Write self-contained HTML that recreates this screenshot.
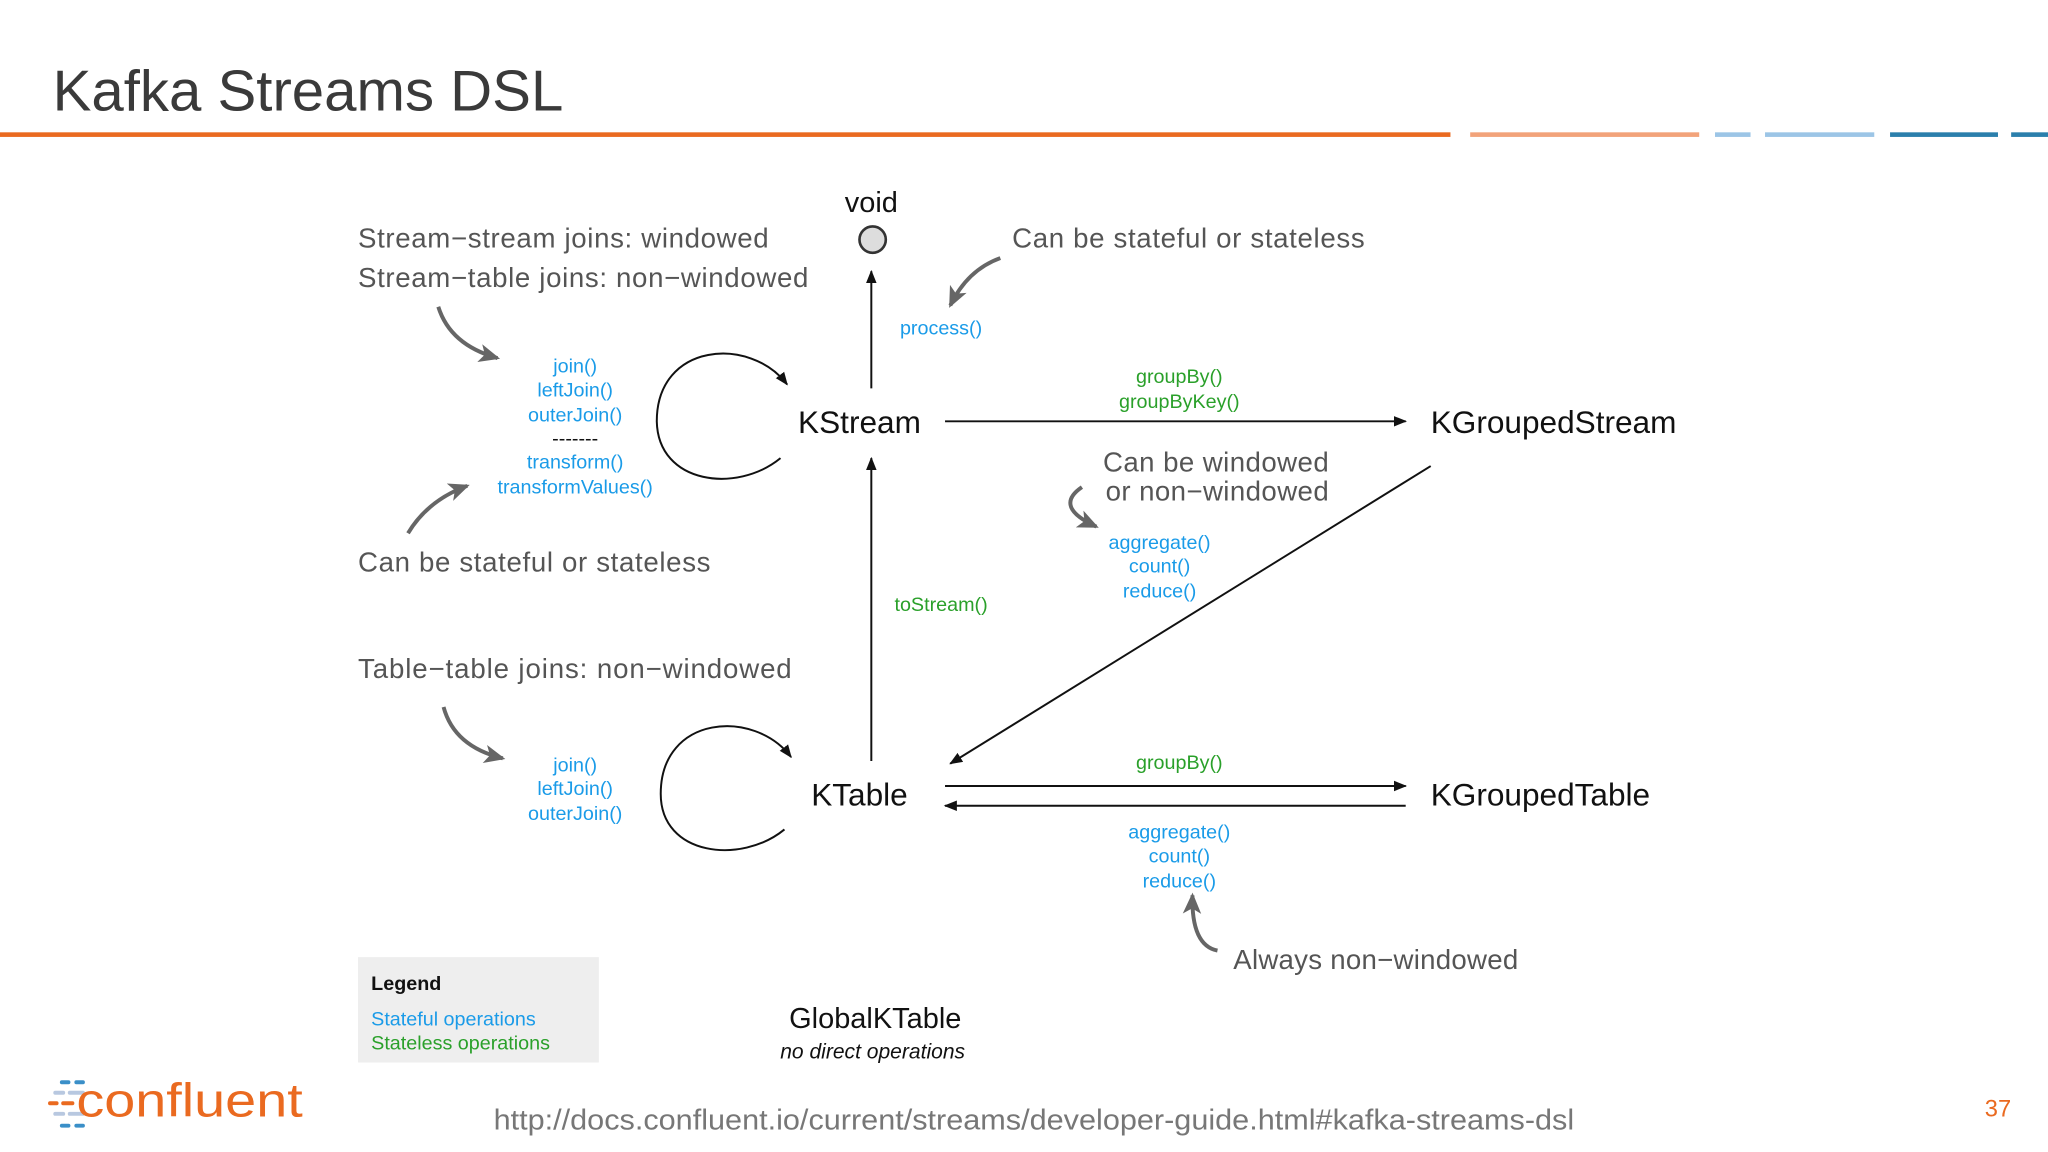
<!DOCTYPE html>
<html><head><meta charset="utf-8"><style>
html,body{margin:0;padding:0;background:#fff;}
svg{display:block;}
.h{font-family:"Liberation Sans",sans-serif;fill:#555;font-size:21px;letter-spacing:0.5px;}
.b{fill:#1a9be8;}
.g{fill:#2aa02a;}
text{font-family:"Liberation Sans",sans-serif;}
</style></head><body>
<svg width="2048" height="1152" viewBox="0 0 1556 875" preserveAspectRatio="none" xmlns="http://www.w3.org/2000/svg">
<defs>
<marker id="a" markerWidth="10" markerHeight="10" refX="9" refY="5" orient="auto" markerUnits="userSpaceOnUse"><path d="M0,1 L10,5 L0,9 z" fill="#111"/></marker>
<marker id="ga" markerWidth="16" markerHeight="16" refX="14" refY="8" orient="auto" markerUnits="userSpaceOnUse"><path d="M0,1 L16,8 L0,15 L4,8 z" fill="#666"/></marker>
</defs>
<text x="40" y="84" font-size="44" fill="#3a3a3a" textLength="388" lengthAdjust="spacingAndGlyphs">Kafka Streams DSL</text>
<rect x="0" y="100.5" width="1102" height="3.5" fill="#ea6a20"/>
<rect x="1117" y="100.5" width="174" height="3.5" fill="#f2a37a"/>
<rect x="1303" y="100.5" width="27" height="3.5" fill="#9cc5e6"/>
<rect x="1341" y="100.5" width="83" height="3.5" fill="#9cc5e6"/>
<rect x="1436" y="100.5" width="82" height="3.5" fill="#2b7fac"/>
<rect x="1528" y="100.5" width="28" height="3.5" fill="#2b7fac"/>

<text x="662" y="161" font-size="22" text-anchor="middle" fill="#111">void</text>
<circle cx="663" cy="182" r="10" fill="#ddd" stroke="#333" stroke-width="2"/>
<line x1="662" y1="295" x2="662" y2="206" stroke="#111" stroke-width="1.5" marker-end="url(#a)"/>
<text x="715" y="254" font-size="15" text-anchor="middle" class="b">process()</text>

<text x="272" y="188" class="h">Stream−stream joins: windowed</text>
<text x="272" y="218" class="h">Stream−table joins: non−windowed</text>
<text x="769" y="188" class="h">Can be stateful or stateless</text>
<path d="M760,196 Q735,205 722,232" fill="none" stroke="#666" stroke-width="3" marker-end="url(#ga)"/>
<path d="M333,233 Q342,262 378,272" fill="none" stroke="#666" stroke-width="3" marker-end="url(#ga)"/>

<text x="653" y="329" font-size="24" text-anchor="middle" fill="#111">KStream</text>
<line x1="718" y1="320" x2="1068" y2="320" stroke="#111" stroke-width="1.5" marker-end="url(#a)"/>
<text x="896" y="291" font-size="15" text-anchor="middle" class="g">groupBy()</text>
<text x="896" y="310" font-size="15" text-anchor="middle" class="g">groupByKey()</text>
<text x="1087" y="329" font-size="24" fill="#111">KGroupedStream</text>
<path d="M593,348 C560,375 500,368 499,320 C499,260 570,255 598,292" fill="none" stroke="#111" stroke-width="1.5" marker-end="url(#a)"/>

<g font-size="15" text-anchor="middle" class="b">
<text x="437" y="283">join()</text><text x="437" y="301">leftJoin()</text><text x="437" y="320">outerJoin()</text>
<text x="437" y="338" fill="#111">-------</text>
<text x="437" y="356">transform()</text><text x="437" y="375">transformValues()</text>
</g>
<path d="M310,405 Q325,380 355,369" fill="none" stroke="#666" stroke-width="3" marker-end="url(#ga)"/>
<text x="272" y="434" class="h">Can be stateful or stateless</text>

<line x1="662" y1="578" x2="662" y2="348" stroke="#111" stroke-width="1.5" marker-end="url(#a)"/>
<text x="715" y="464" font-size="15" text-anchor="middle" class="g">toStream()</text>
<text x="838" y="358" class="h" textLength="172">Can be windowed</text>
<text x="840" y="380" class="h" textLength="170">or non−windowed</text>
<path d="M822,370 Q800,385 833,400" fill="none" stroke="#666" stroke-width="3" marker-end="url(#ga)"/>
<g font-size="15" text-anchor="middle" class="b">
<text x="881" y="417">aggregate()</text><text x="881" y="435">count()</text><text x="881" y="454">reduce()</text>
</g>
<line x1="1087" y1="354" x2="722" y2="580" stroke="#111" stroke-width="1.5" marker-end="url(#a)"/>

<text x="272" y="515" class="h" textLength="330">Table−table joins: non−windowed</text>
<path d="M337,537 Q345,567 382,576" fill="none" stroke="#666" stroke-width="3" marker-end="url(#ga)"/>
<g font-size="15" text-anchor="middle" class="b">
<text x="437" y="586">join()</text><text x="437" y="604">leftJoin()</text><text x="437" y="623">outerJoin()</text>
</g>
<path d="M596,630 C563,657 502,650 502,603 C502,543 573,538 601,575" fill="none" stroke="#111" stroke-width="1.5" marker-end="url(#a)"/>

<text x="653" y="612" font-size="24" text-anchor="middle" fill="#111">KTable</text>
<text x="896" y="584" font-size="15" text-anchor="middle" class="g">groupBy()</text>
<line x1="718" y1="597" x2="1068" y2="597" stroke="#111" stroke-width="1.5" marker-end="url(#a)"/>
<line x1="1068" y1="612" x2="718" y2="612" stroke="#111" stroke-width="1.5" marker-end="url(#a)"/>
<text x="1087" y="612" font-size="24" fill="#111">KGroupedTable</text>
<g font-size="15" text-anchor="middle" class="b">
<text x="896" y="637">aggregate()</text><text x="896" y="655">count()</text><text x="896" y="674">reduce()</text>
</g>
<path d="M925,722 Q905,718 906,680" fill="none" stroke="#666" stroke-width="3" marker-end="url(#ga)"/>
<text x="937" y="736" class="h" textLength="217">Always non−windowed</text>

<rect x="272" y="727" width="183" height="80" fill="#eeeeee"/>
<text x="282" y="752" font-size="15" font-weight="bold" fill="#111">Legend</text>
<text x="282" y="779" font-size="15" class="b">Stateful operations</text>
<text x="282" y="797" font-size="15" class="g">Stateless operations</text>

<text x="665" y="781" font-size="22" text-anchor="middle" fill="#111">GlobalKTable</text>
<text x="663" y="804" font-size="16" text-anchor="middle" font-style="italic" fill="#111">no direct operations</text>

<g stroke-width="3" stroke-linecap="round">
<line x1="47" y1="822" x2="52" y2="822" stroke="#3a8fc8"/><line x1="58" y1="822" x2="63" y2="822" stroke="#3a8fc8"/>
<line x1="42" y1="830" x2="48" y2="830" stroke="#b8c8e0"/><line x1="53" y1="830" x2="63" y2="830" stroke="#b8c8e0"/>
<line x1="38" y1="838" x2="43" y2="838" stroke="#ea6a20"/><line x1="48" y1="838" x2="55" y2="838" stroke="#ea6a20"/>
<line x1="42" y1="846" x2="48" y2="846" stroke="#b8c8e0"/><line x1="53" y1="846" x2="63" y2="846" stroke="#b8c8e0"/>
<line x1="47" y1="855" x2="52" y2="855" stroke="#3a8fc8"/><line x1="58" y1="855" x2="63" y2="855" stroke="#3a8fc8"/>
</g>
<text x="58" y="848" font-size="36" fill="#ea6a20" textLength="172" lengthAdjust="spacingAndGlyphs">confluent</text>
<text x="375" y="858" font-size="22" fill="#777" textLength="821" lengthAdjust="spacingAndGlyphs">http://docs.confluent.io/current/streams/developer-guide.html#kafka-streams-dsl</text>
<text x="1508" y="848" font-size="18" fill="#ea6a20">37</text>
</svg>
</body></html>
